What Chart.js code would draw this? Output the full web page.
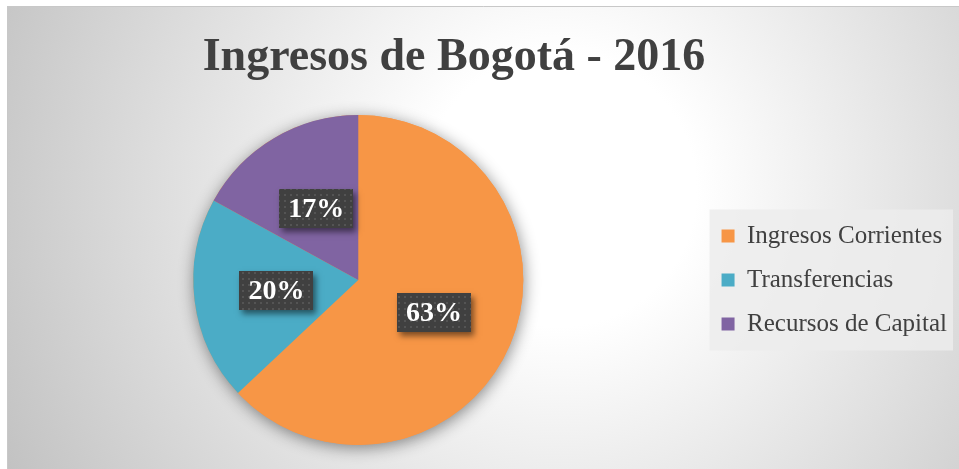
<!DOCTYPE html>
<html>
<head>
<meta charset="utf-8">
<script src="https://cdn.jsdelivr.net/npm/chart.js"></script>
<style>
  html, body { margin: 0; padding: 0; background: #ffffff; }
  #chart { display: block; }
</style>
</head>
<body>
<canvas id="chart" width="959" height="469"></canvas>
<script>
// Data
const chartTitle = 'Ingresos de Bogotá - 2016';
const categories = ['Ingresos Corrientes', 'Transferencias', 'Recursos de Capital'];
const shares = [63, 20, 17];
const sliceColors = ['#F79646', '#4BACC6', '#8064A2'];

const textColor = '#404040';
const serif = "'Liberation Serif', 'Times New Roman', serif";

// Grey frame with a soft radial light, like the office chart style
const backgroundPlugin = {
    id: 'officeBackground',
    beforeDraw(chart) {
        const ctx = chart.ctx;
        const w = chart.width, h = chart.height;
        ctx.save();
        ctx.fillStyle = '#ffffff';
        ctx.fillRect(0, 0, w, h);
        const grad = ctx.createRadialGradient(560, 190, 0, 560, 190, 620);
        grad.addColorStop(0, '#ffffff');
        grad.addColorStop(0.22, '#ffffff');
        grad.addColorStop(1, '#c2c2c2');
        ctx.fillStyle = grad;
        ctx.fillRect(7, 6, w - 7, h - 6);
        ctx.strokeStyle = '#c8c8c8';
        ctx.lineWidth = 1;
        ctx.beginPath();
        ctx.moveTo(7.5, h);
        ctx.lineTo(7.5, 6.5);
        ctx.lineTo(w, 6.5);
        ctx.stroke();

        // light panel behind the legend
        const boxes = chart.legend.legendHitBoxes;
        if (boxes && boxes.length) {
            const first = boxes[0], last = boxes[boxes.length - 1];
            ctx.fillStyle = 'rgba(236, 236, 236, 0.85)';
            const x0 = first.left - 12;
            const y0 = first.top - 14;
            const y1 = last.top + last.height + 14;
            ctx.fillRect(x0, y0, 953 - x0, y1 - y0);
        }
        ctx.restore();
    },
    beforeDatasetsDraw(chart) {
        // soft shadow under the pie
        const arc = chart.getDatasetMeta(0).data[0];
        const ctx = chart.ctx;
        ctx.save();
        ctx.shadowColor = 'rgba(0, 0, 0, 0.45)';
        ctx.shadowBlur = 16;
        ctx.shadowOffsetX = 1;
        ctx.shadowOffsetY = 3;
        ctx.fillStyle = sliceColors[0];
        ctx.beginPath();
        ctx.arc(arc.x, arc.y, arc.outerRadius, 0, Math.PI * 2);
        ctx.fill();
        ctx.restore();
    }
};

// Title drawn by hand so it can sit off-centre like the original
const titlePlugin = {
    id: 'offsetTitle',
    afterDraw(chart) {
        const ctx = chart.ctx;
        ctx.save();
        ctx.font = 'bold 46px ' + serif;
        ctx.fillStyle = textColor;
        ctx.textAlign = 'center';
        ctx.textBaseline = 'alphabetic';
        ctx.fillText(chartTitle, 454, 70);
        ctx.restore();
    }
};

// Dark dotted label boxes with white percentages
function makeDotPattern(ctx) {
    const c = document.createElement('canvas');
    c.width = 6; c.height = 6;
    const p = c.getContext('2d');
    p.fillStyle = '#404040';
    p.fillRect(0, 0, 6, 6);
    p.fillStyle = '#545454';
    p.fillRect(2, 2, 2, 2);
    return ctx.createPattern(c, 'repeat');
}

const labelPlugin = {
    id: 'boxLabels',
    afterDatasetsDraw(chart) {
        const ctx = chart.ctx;
        const meta = chart.getDatasetMeta(0);
        const data = chart.data.datasets[0].data;
        const total = data.reduce((a, b) => a + b, 0);
        const pattern = makeDotPattern(ctx);
        ctx.save();
        ctx.font = 'bold 28px ' + serif;
        meta.data.forEach((arc, i) => {
            const pos = arc.tooltipPosition();
            const text = Math.round(data[i] / total * 100) + '%';
            const bw = 74, bh = 39;
            const bx = Math.round(pos.x - bw / 2), by = Math.round(pos.y - bh / 2);
            ctx.save();
            ctx.shadowColor = 'rgba(0, 0, 0, 0.5)';
            ctx.shadowBlur = 6;
            ctx.shadowOffsetX = 3;
            ctx.shadowOffsetY = 4;
            ctx.fillStyle = '#404040';
            ctx.fillRect(bx, by, bw, bh);
            ctx.restore();
            ctx.fillStyle = pattern;
            ctx.fillRect(bx, by, bw, bh);
            ctx.fillStyle = '#ffffff';
            ctx.textAlign = 'center';
            ctx.textBaseline = 'middle';
            ctx.fillText(text, pos.x, pos.y + 1);
        });
        ctx.restore();
    }
};

new Chart(document.getElementById('chart'), {
    type: 'pie',
    data: {
        labels: categories,
        datasets: [{
            data: shares,
            backgroundColor: sliceColors,
            borderWidth: 0,
            hoverOffset: 0
        }]
    },
    options: {
        responsive: false,
        animation: false,
        devicePixelRatio: 1,
        layout: {
            padding: { left: 14, right: 2, top: 115, bottom: 24 }
        },
        plugins: {
            title: { display: false },
            tooltip: { enabled: false },
            legend: {
                position: 'right',
                align: 'center',
                labels: {
                    boxWidth: 13,
                    boxHeight: 13,
                    padding: 19,
                    color: textColor,
                    font: { family: serif, size: 25 }
                }
            }
        }
    },
    plugins: [backgroundPlugin, labelPlugin, titlePlugin]
});
</script>
</body>
</html>
